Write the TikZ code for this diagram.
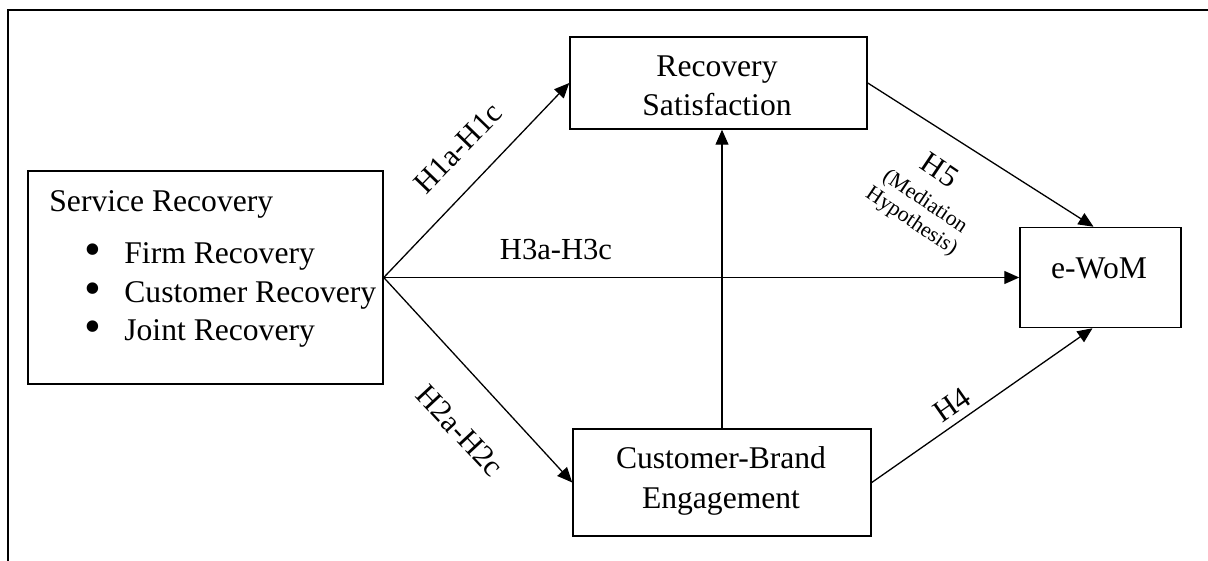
\documentclass[tikz,border=0pt]{standalone}
\usepackage{fontspec}
\setmainfont{Liberation Serif}
\usetikzlibrary{arrows.meta}
\begin{document}
\begin{tikzpicture}[x=0.5pt,y=-0.5pt,
  box/.style={draw, line width=0.75pt, inner sep=0},
  conn/.style={line width=0.65pt, -{Triangle[length=7.5pt,width=6.5pt]}},
  txt/.style={font=\fontsize{15.8}{20}\selectfont, inner sep=0},
  bul/.style={font=\fontsize{24}{24}\selectfont, inner sep=0},
  lab/.style={font=\fontsize{15.3}{18}\selectfont, inner sep=0},
  smalllab/.style={font=\fontsize{10.9}{12}\selectfont, inner sep=0, align=center}
]
\useasboundingbox (0,0) rectangle (1208,561);
\coordinate (fa) at (8,561);
\coordinate (fb) at (8,10);
\coordinate (fc) at (1208,10);
\draw[line width=1.4pt] (fa) -- (fb) -- (fc);

% boxes
\node[box, minimum width=177.5pt, minimum height=106.5pt] (sr) at (205.5,277.5) {};
\node[box, minimum width=148.5pt, minimum height=46pt] (rs) at (718.5,83) {};
\node[box, minimum width=149pt, minimum height=53.5pt] (cbe) at (722,482.5) {};
\node[box, minimum width=80.5pt, minimum height=50pt] (ewom) at (1100.5,277.5) {};

% texts
\node[txt, anchor=base west] (srt) at (49,212) {Service Recovery};
\node[bul] (b1) at (93,255) {•};
\node[bul] (b2) at (93,294) {•};
\node[bul] (b3) at (93,332) {•};
\node[txt, anchor=base west] (i1) at (124,263) {Firm Recovery};
\node[txt, anchor=base west] (i2) at (124,302) {Customer Recovery};
\node[txt, anchor=base west] (i3) at (124,340) {Joint Recovery};

\node[txt, anchor=base] (rs1) at (717,77) {Recovery};
\node[txt, anchor=base] (rs2) at (717,116) {Satisfaction};
\node[txt, anchor=base] (cb1) at (721,468) {Customer-Brand};
\node[txt, anchor=base] (cb2) at (721,508) {Engagement};
\node[txt, anchor=base] (ew) at (1099,278) {e-WoM};

% connectors
\draw[conn] (sr.east) -- (rs.west);
\draw[conn] (sr.east) -- (cbe.west);
\draw[conn] (sr.east) -- (ewom.west);
\draw[conn] (cbe.north) -- (cbe.north |- rs.south);
\draw[conn] (rs.east) -- ([xshift=-3.5pt]ewom.north);
\draw[conn] (cbe.east) -- ([xshift=-4pt]ewom.south);

% labels
\node[lab, rotate=46] (h1) at (458,148) {H1a-H1c};
\node[lab, rotate=-47] (h2) at (460,431) {H2a-H2c};
\node[lab] (h3) at (556,250) {H3a-H3c};
\node[lab, rotate=-34] (h5) at (940,170) {H5};
\node[smalllab, rotate=-34] (h5b) at (918,212) {(Mediation\\Hypothesis)};
\node[lab, rotate=35] (h4) at (952,405) {H4};
\end{tikzpicture}
\end{document}
